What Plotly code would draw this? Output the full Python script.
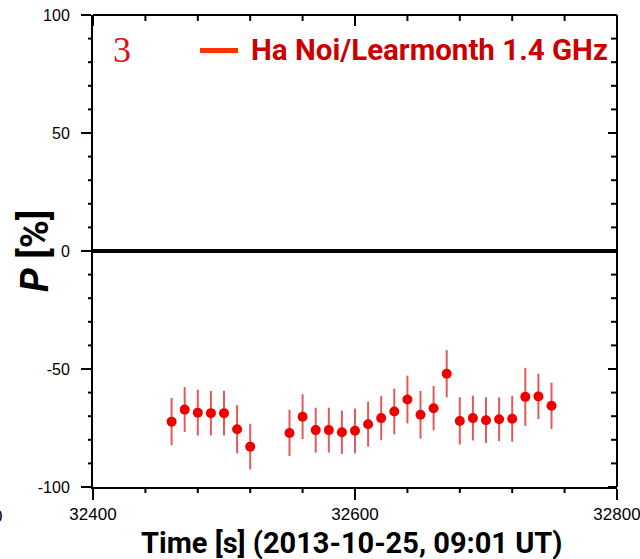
import plotly.graph_objects as go

# ---- data ----
time_s = [32460, 32470, 32480, 32490, 32500, 32510, 32520,
          32550, 32560, 32570, 32580, 32590, 32600, 32610, 32620,
          32630, 32640, 32650, 32660, 32670, 32680, 32690, 32700,
          32710, 32720, 32730, 32740, 32750]
pol_pct = [-72.3, -67.2, -68.5, -68.7, -68.7, -75.5, -82.9,
           -77.1, -70.2, -75.9, -75.9, -76.8, -76.2, -73.4, -70.8,
           -68.0, -62.9, -69.4, -66.6, -52.0, -72.0, -70.8, -71.7,
           -71.3, -71.1, -61.8, -61.6, -65.6]
pol_err = [10.0, 9.5, 9.7, 9.4, 9.5, 10.2, 9.7,
           9.8, 9.5, 9.5, 9.5, 9.2, 9.5, 9.5, 9.4,
           9.7, 10.1, 10.1, 9.4, 10.0, 10.0, 9.5, 9.7,
           9.3, 9.7, 12.3, 9.6, 9.8]
x_range = [32400, 32800]
y_range = [-100, 100]
x_ticks = [32400, 32600, 32800]
y_ticks = [-100, -50, 0, 50, 100]
x_minor_ticks = [32440, 32480, 32520, 32560, 32640, 32680, 32720, 32760]
y_minor_ticks = [-90, -80, -70, -60, -40, -30, -20, -10,
                 10, 20, 30, 40, 60, 70, 80, 90]
series_name = "Ha Noi/Learmonth 1.4 GHz"
panel_label = "3"

W, H = 640, 559
L, R, T, B = 93, 23, 15, 72
pw, ph = W - L - R, H - T - B

def px(xp):
    return (xp - L) / pw

def py(yp):
    return 1 - (yp - T) / ph

fig = go.Figure()
fig.add_trace(go.Scatter(
    x=time_s, y=pol_pct, mode="markers",
    marker=dict(color="#ee0000", size=10, line=dict(width=0)),
    error_y=dict(type="data", array=pol_err, color="rgba(215,20,20,0.7)",
                 thickness=2, width=0),
    showlegend=False))

tickfont_x = dict(family="Liberation Sans, Arial", size=17, color="black")
tickfont_y = dict(family="Liberation Sans, Arial", size=16, color="black")

fig.update_layout(
    template="none",
    width=W, height=H,
    margin=dict(l=L, r=R, t=T, b=B, autoexpand=False),
    paper_bgcolor="white", plot_bgcolor="white",
    xaxis=dict(range=x_range, tickmode="array", tickvals=x_ticks,
               ticktext=[str(v) for v in x_ticks],
               ticks="outside", ticklen=11, tickwidth=2, tickcolor="black",
               showline=True, linewidth=2, linecolor="black",
               showgrid=False, zeroline=False, automargin=False,
               tickfont=tickfont_x, ticklabelstandoff=0,
               ticklabeloverflow="allow", fixedrange=True),
    yaxis=dict(range=y_range, tickmode="array", tickvals=y_ticks,
               ticktext=[str(v) for v in y_ticks],
               ticks="outside", ticklen=10, tickwidth=2, tickcolor="black",
               showline=True, linewidth=2, linecolor="black",
               showgrid=False, zeroline=True, zerolinewidth=4,
               zerolinecolor="black", automargin=False,
               tickfont=tickfont_y, ticklabelstandoff=8, fixedrange=True),
    showlegend=False,
)

# frame on top and right
fig.add_shape(type="line", xref="paper", yref="paper", x0=0, x1=1, y0=1, y1=1,
              line=dict(color="black", width=2))
fig.add_shape(type="line", xref="paper", yref="paper", x0=1, x1=1, y0=0, y1=1,
              line=dict(color="black", width=2))

tick_line = dict(color="black", width=2)
# tick length as a fraction of the plot area (minor 6 px, major 11 px)
xt_min, xt_maj = 6 / ph, 11 / ph
yt_min_out, yt_min_in, yt_maj_in = 5 / pw, 6 / pw, 9 / pw
for v in x_minor_ticks:
    fig.add_shape(type="line", xref="x", yref="paper", x0=v, x1=v,
                  y0=0, y1=-xt_min, line=tick_line)
    fig.add_shape(type="line", xref="x", yref="paper", x0=v, x1=v,
                  y0=1, y1=1 - xt_min, line=tick_line)
for v in x_ticks:
    fig.add_shape(type="line", xref="x", yref="paper", x0=v, x1=v,
                  y0=1, y1=1 - xt_maj, line=tick_line)
for v in y_minor_ticks:
    fig.add_shape(type="line", xref="paper", yref="y", y0=v, y1=v,
                  x0=0, x1=-yt_min_out, line=tick_line)
    fig.add_shape(type="line", xref="paper", yref="y", y0=v, y1=v,
                  x0=1, x1=1 - yt_min_in, line=tick_line)
for v in y_ticks:
    fig.add_shape(type="line", xref="paper", yref="y", y0=v, y1=v,
                  x0=1, x1=1 - yt_maj_in, line=tick_line)

title_font = "Liberation Sans Narrow, Roboto, Liberation Sans"
anns = [
    dict(x=px(351), y=py(543), xref="paper", yref="paper",
         text="<b>Time [s] (2013-10-25, 09:01 UT)</b>", showarrow=False,
         xanchor="center", yanchor="middle",
         font=dict(family=title_font, size=29, color="black")),
    dict(x=px(35), y=py(251), xref="paper", yref="paper",
         text="<b><i>P</i> [%]</b>", showarrow=False, textangle=-90,
         xanchor="center", yanchor="middle",
         font=dict(family=title_font, size=38, color="black")),
    dict(x=px(249), y=py(50.5), xref="paper", yref="paper",
         text="<b>" + series_name + "</b>", showarrow=False,
         xanchor="left", yanchor="middle",
         font=dict(family=title_font, size=29.5, color="#cc0000")),
    dict(x=px(122), y=py(50.5), xref="paper", yref="paper",
         text=panel_label, showarrow=False, xanchor="center", yanchor="middle",
         font=dict(family="Liberation Serif, Times New Roman", size=36,
                   color="#dd1111")),
    dict(x=px(4), y=py(516), xref="paper", yref="paper",
         text="0", showarrow=False, xanchor="right", yanchor="middle",
         font=dict(family="Liberation Sans, Arial", size=17, color="black")),
]
fig.update_layout(annotations=anns)
fig.add_shape(type="line", xref="paper", yref="paper",
              x0=px(200), x1=px(238), y0=py(50.5), y1=py(50.5),
              line=dict(color="#ff3300", width=5))

fig.write_html("out.html")
